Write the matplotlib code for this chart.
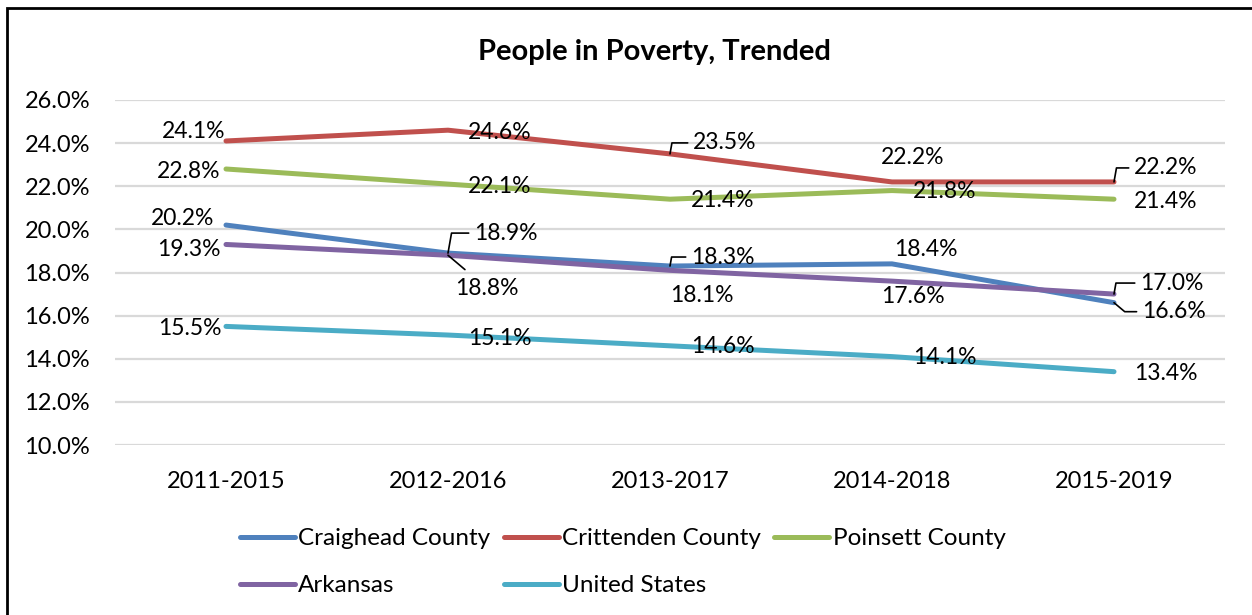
import matplotlib.pyplot as plt
from matplotlib.patches import Rectangle

plt.rcParams['font.family'] = ['Lato', 'DejaVu Sans']

periods = ['2011-2015', '2012-2016', '2013-2017', '2014-2018', '2015-2019']
craighead = [20.2, 18.9, 18.3, 18.4, 16.6]
crittenden = [24.1, 24.6, 23.5, 22.2, 22.2]
poinsett = [22.8, 22.1, 21.4, 21.8, 21.4]
arkansas = [19.3, 18.8, 18.1, 17.6, 17.0]
united_states = [15.5, 15.1, 14.6, 14.1, 13.4]

series = [
    ('Craighead County', craighead, '#4F81BD'),
    ('Crittenden County', crittenden, '#C0504D'),
    ('Poinsett County', poinsett, '#9BBB59'),
    ('Arkansas', arkansas, '#8064A2'),
    ('United States', united_states, '#4BACC6'),
]

# label offsets in pixels (dx, dy), and leader style (None / 'angle' / 'down' / 'straight')
label_pos = {
    'Craighead County': [(-43, 7, None), (58, 20, 'angle'), (53, 9, 'angle'), (34, 14, None), (60, -9, 'down')],
    'Crittenden County': [(-32, 9, None), (52, -2, None), (55, 11, 'angle'), (21, 24, None), (52, 14, 'angle')],
    'Poinsett County': [(-37, -3, None), (52, -2, None), (53, -1, None), (53, -1, None), (52, -2, None)],
    'Arkansas': [(-37, -5, None), (39, -33, 'straight'), (32, -25, None), (21, -15, None), (58, 11, 'angle')],
    'United States': [(-36, -2, None), (52, -3, None), (53, -1, None), (53, -1, None), (52, -2, None)],
}

fig = plt.figure(figsize=(12.52, 6.15), dpi=100)
ax = fig.add_axes([115 / 1252, 1 - 445 / 615, 1110 / 1252, 345 / 615])

x = list(range(len(periods)))
handles = {}
for name, vals, col in series:
    ln, = ax.plot(x, vals, color=col, lw=3.6, solid_capstyle='round', solid_joinstyle='round', label=name, zorder=3)
    handles[name] = ln
    for i, v in enumerate(vals):
        dx, dy, leader = label_pos[name][i]
        kw = {}
        if leader == 'angle':
            kw['arrowprops'] = dict(arrowstyle='-', color='black', lw=1.2, shrinkA=2, shrinkB=0,
                                    relpos=(0, 0.5), connectionstyle='angle,angleA=0,angleB=80,rad=0')
        elif leader == 'down':
            kw['arrowprops'] = dict(arrowstyle='-', color='black', lw=1.2, shrinkA=2, shrinkB=0,
                                    relpos=(0, 0.5), connectionstyle='angle,angleA=0,angleB=-40,rad=0')
        elif leader == 'straight':
            kw['arrowprops'] = dict(arrowstyle='-', color='black', lw=1.2, shrinkA=6, shrinkB=0,
                                    connectionstyle='arc3')
        ax.annotate(f'{v:.1f}%', (i, v), xytext=(dx, dy), textcoords='offset pixels',
                    ha='center', va='center', fontsize=16.5, color='black', zorder=5, **kw)

ax.set_xlim(-0.5, 4.5)
ax.set_ylim(10, 26)
ax.set_yticks([10, 12, 14, 16, 18, 20, 22, 24, 26])
ax.set_yticklabels([f'{t:.1f}%' for t in range(10, 27, 2)])
ax.set_xticks(x)
ax.set_xticklabels(periods)
ax.tick_params(axis='both', length=0, labelsize=17)
ax.tick_params(axis='y', pad=18)
ax.tick_params(axis='x', pad=19)
ax.grid(axis='y', color='#D9D9D9', lw=1.6)
ax.set_axisbelow(True)
for s in ax.spines.values():
    s.set_visible(False)

fig.text(654 / 1252, 1 - 52 / 615, 'People in Poverty, Trended', ha='center', va='center',
         fontsize=21, fontweight='bold')

order = ['Craighead County', 'Arkansas', 'Crittenden County', 'United States', 'Poinsett County']
fig.legend([handles[n] for n in order], order, ncol=3, frameon=False,
           loc='upper left', bbox_to_anchor=(240 / 1252, 1 - 528 / 615),
           fontsize=17.5, handlelength=2.25, handletextpad=0.15, columnspacing=0.55,
           labelspacing=1.08, borderaxespad=0, borderpad=0)

fig.patches.append(Rectangle((7 / 1252, -0.1), 1.2, 1.1 - 8 / 615, transform=fig.transFigure,
                             fill=False, edgecolor='black', lw=2))

fig.savefig('out.png', dpi=100)
